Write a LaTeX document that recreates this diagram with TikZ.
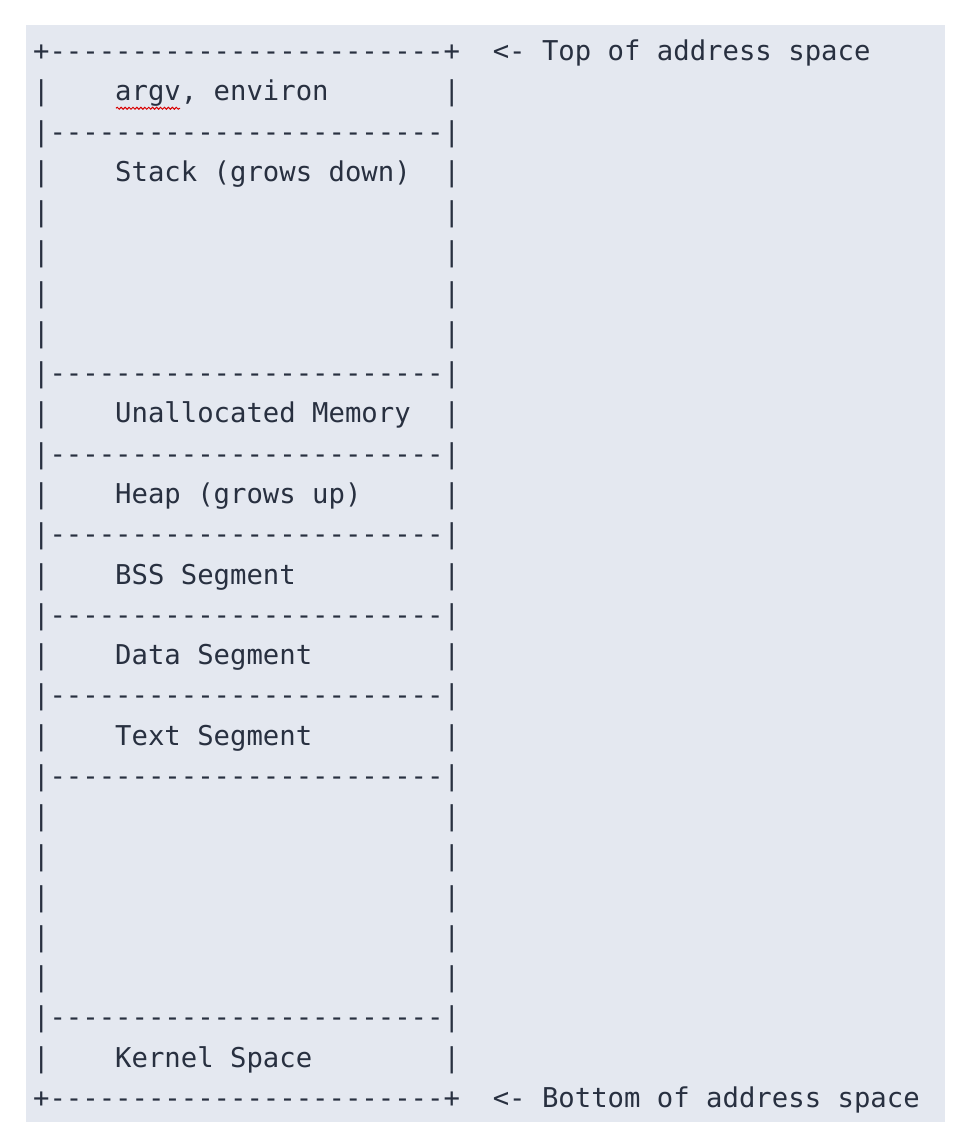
\documentclass[tikz,border=0pt]{standalone}
\usepackage{fontspec}
\setmonofont{DejaVu Sans Mono}
\usetikzlibrary{positioning,decorations.pathmorphing}
\definecolor{paper}{HTML}{E4E8F0}
\definecolor{ink}{HTML}{283040}
\newcommand\dashline{------------------------}
\newcommand\blankline{|\hphantom{\dashline}|}
\tikzset{
	node distance=1.0065cm,
	on grid,
	row/.style={anchor=west, inner sep=0pt, text=ink,
		font=\fontsize{19.4pt}{24pt}\ttfamily,
		text height=14.7pt, text depth=4.7pt},
	spell/.style={red!85!black, line width=0.7pt, decorate,
		decoration={snake, amplitude=0.7pt, segment length=2.8pt}},
}
\begin{document}
\begin{tikzpicture}
	\fill[white] (0,0) rectangle (24,-28.2);
	\fill[paper] (0.65,-0.625) rectangle (23.625,-28.05);

	\node[row] (r0) at (0.82,-1.34) {+\dashline+~~<- Top of address space};
	\node[below=of r0.west, row] (r1) {|~~~~argv, environ~~~~~~~|};
	\node[below=of r1.west, row] (r2) {|\dashline|};
	\node[below=of r2.west, row] (r3) {|~~~~Stack (grows down)~~|};
	\node[below=of r3.west, row] (r4) {\blankline};
	\node[below=of r4.west, row] (r5) {\blankline};
	\node[below=of r5.west, row] (r6) {\blankline};
	\node[below=of r6.west, row] (r7) {\blankline};
	\node[below=of r7.west, row] (r8) {|\dashline|};
	\node[below=of r8.west, row] (r9) {|~~~~Unallocated Memory~~|};
	\node[below=of r9.west, row] (r10) {|\dashline|};
	\node[below=of r10.west, row] (r11) {|~~~~Heap (grows up)~~~~~|};
	\node[below=of r11.west, row] (r12) {|\dashline|};
	\node[below=of r12.west, row] (r13) {|~~~~BSS Segment~~~~~~~~~|};
	\node[below=of r13.west, row] (r14) {|\dashline|};
	\node[below=of r14.west, row] (r15) {|~~~~Data Segment~~~~~~~~|};
	\node[below=of r15.west, row] (r16) {|\dashline|};
	\node[below=of r16.west, row] (r17) {|~~~~Text Segment~~~~~~~~|};
	\node[below=of r17.west, row] (r18) {|\dashline|};
	\node[below=of r18.west, row] (r19) {\blankline};
	\node[below=of r19.west, row] (r20) {\blankline};
	\node[below=of r20.west, row] (r21) {\blankline};
	\node[below=of r21.west, row] (r22) {\blankline};
	\node[below=of r22.west, row] (r23) {\blankline};
	\node[below=of r23.west, row] (r24) {|\dashline|};
	\node[below=of r24.west, row] (r25) {|~~~~Kernel Space~~~~~~~~|};
	\node[below=of r25.west, row] (r26) {+\dashline+~~<- Bottom of address space};

	% spell-check squiggle under argv
	\draw[spell] ([xshift=2.08cm, yshift=-0.36cm]r1.west) -- ++(1.6,0);
\end{tikzpicture}
\end{document}
